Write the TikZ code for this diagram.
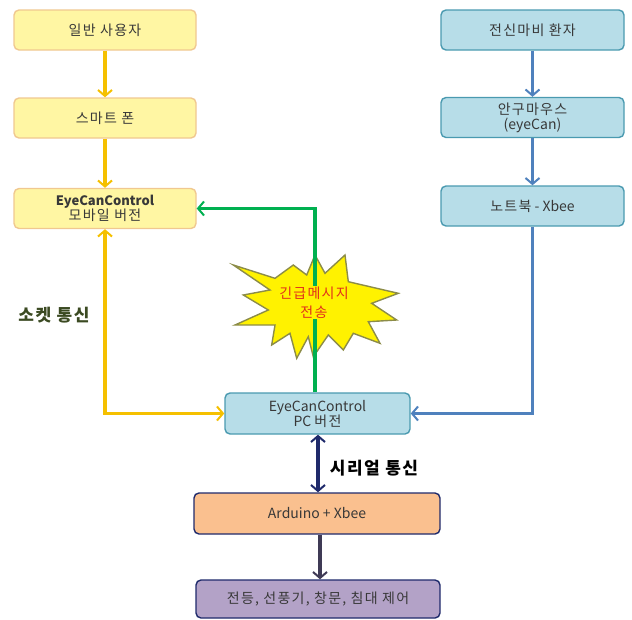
\documentclass[tikz,border=0pt]{standalone}
\usepackage{fontspec}
\setmainfont{Noto Sans CJK KR}
\newfontfamily\ks[LetterSpace=9]{Noto Sans CJK KR}
\usetikzlibrary{arrows.meta}
\definecolor{yfill}{HTML}{FFF6A3}
\definecolor{yline}{HTML}{F0C890}
\definecolor{yarrow}{HTML}{F5C000}
\definecolor{bfill}{HTML}{B7DDE8}
\definecolor{bline}{HTML}{4A9AB0}
\definecolor{barrow}{HTML}{4F81BD}
\definecolor{garrow}{HTML}{00B050}
\definecolor{ofill}{HTML}{FAC08F}
\definecolor{pfill}{HTML}{B3A2C7}
\definecolor{navy}{HTML}{1F2A6B}
\definecolor{darkarr}{HTML}{3F3A55}
\definecolor{txt}{HTML}{383838}
\definecolor{burstline}{HTML}{8C8C48}
\definecolor{sock}{HTML}{3B4A22}
\definecolor{msgred}{HTML}{E2301A}
\begin{document}
\begin{tikzpicture}[x=1pt,y=-1pt,
  box/.style={rounded corners=5pt, line width=1.4pt, align=center, inner sep=1pt,
    text=txt, font=\fontsize{14}{15}\selectfont, minimum height=40pt},
  ybox/.style={box, fill=yfill, draw=yline, minimum width=182pt},
  bbox/.style={box, fill=bfill, draw=bline, minimum width=183pt},
  obox/.style={box, fill=ofill, draw=navy, minimum width=246pt},
  pbox/.style={box, fill=pfill, draw=navy, minimum width=244pt, minimum height=38pt},
  tip/.style={-{Straight Barb[length=6pt,width=14pt,line width=2pt]}},
  tips/.style={{Straight Barb[length=6pt,width=14pt,line width=2pt]}-{Straight Barb[length=6pt,width=14pt,line width=2pt]}},
  conn/.style={line width=3.2pt},
  lbl/.style={font=\ks\bfseries\fontsize{17}{19}\selectfont}
]
\useasboundingbox (0,0) rectangle (632,619);

% left column
\node[ybox] (y1) at (105,30) {\ks 일반 사용자};
\node[ybox] (y2) at (105,118) {\ks 스마트 폰};
\node[ybox] (y3) at (105,208.5) {{\bfseries\fontsize{13}{15}\selectfont EyeCanControl}\\{\ks 모바일 버전}};

% right column
\node[bbox] (b1) at (532.5,30) {\ks 전신마비 환자};
\node[bbox] (b2) at (532.5,117.5) {{\ks 안구마우스}\\(eyeCan)};
\node[bbox] (b3) at (532.5,206) {{\ks 노트북} - Xbee};

% center
\node[bbox, minimum width=185pt, minimum height=41pt] (pc) at (317.5,413.5) {EyeCanControl\\PC {\ks 버전}};
\node[obox, minimum height=41pt] (ard) at (317,513.5) {Arduino + Xbee};
\node[pbox] (bot) at (318,599) {\ks 전등, 선풍기, 창문, 침대 제어};

% burst
\path[fill=yellow, draw=burstline, line width=1.4pt, line join=miter]
  (233.3,265) -- (275,278.3) -- (293.3,265) -- (306.7,275) -- (315,255) --
  (325,273.3) -- (345,255) -- (348.3,281.7) -- (398.3,293.3) -- (371.7,303.3) --
  (396.7,320) -- (368.3,321.7) -- (380,343.3) -- (353.3,333.3) -- (343.3,350) --
  (328.3,335) -- (313.3,356.7) -- (308.3,336.7) -- (296.7,358.3) -- (290,333.3) --
  (271.7,345) -- (275,325) -- (235,325) -- (268.3,310) -- (243.3,295) --
  (270,290) -- cycle;

% connectors
\draw[conn, yarrow, tip] (y1) -- (y2);
\draw[conn, yarrow, tip] (y2) -- (y3);
\draw[conn, yarrow, tips] (y3.south) |- (pc.west);
\draw[conn, barrow, tip] (b1) -- (b2);
\draw[conn, barrow, tip] (b2) -- (b3);
\draw[conn, barrow, tip] (b3.south) |- (pc.east);
\draw[conn, garrow, tip] ([xshift=-2.5pt]pc.north) |- (y3.east);
\draw[conn, navy, tips] ([xshift=0.5pt]pc.south) -- ([xshift=1pt]ard.north);
\draw[conn, darkarr, tip] ([xshift=3pt]ard.south) -- ([xshift=2pt]bot.north);

% burst text
\node[fill=yellow, inner sep=1pt, align=center, text=msgred,
  font=\ks\fontsize{14}{19}\selectfont] (msg) at (314,302.5) {긴급메시지\\전송};

% labels
\node[lbl, text=sock] (sk) at (54,315) {소켓 통신};
\node[lbl, text=black] (sr) at (374,468) {시리얼 통신};
\end{tikzpicture}
\end{document}
